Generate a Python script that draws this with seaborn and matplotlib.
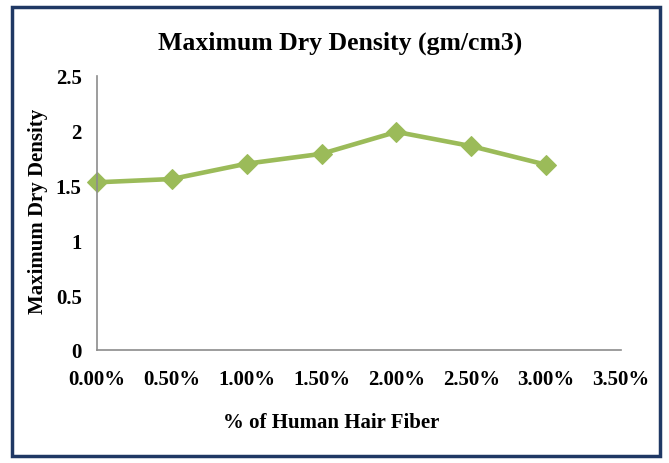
import matplotlib
matplotlib.use("Agg")
import matplotlib.pyplot as plt
import matplotlib.ticker as mticker
from matplotlib.patches import Rectangle
import seaborn as sns
import pandas as pd

fiber_pct = [0.0, 0.5, 1.0, 1.5, 2.0, 2.5, 3.0]
max_dry_density = [1.53, 1.56, 1.70, 1.79, 1.99, 1.86, 1.69]

title = "Maximum Dry Density (gm/cm3)"
x_label = "% of Human Hair Fiber"
y_label = "Maximum Dry Density"

sns.set_theme(style="white")
plt.rcParams["font.family"] = ["Liberation Serif", "DejaVu Serif"]
plt.rcParams["font.weight"] = "bold"
plt.rcParams["text.color"] = "black"
plt.rcParams["axes.labelcolor"] = "black"

df = pd.DataFrame({"fiber": fiber_pct, "mdd": max_dry_density})

fig = plt.figure(figsize=(6.69, 4.64), dpi=100)
ax = fig.add_axes([97 / 669, 1 - 351 / 464, (621 - 97) / 669, (351 - 77) / 464])

sns.lineplot(data=df, x="fiber", y="mdd", ax=ax, color="#9BBB59", linewidth=3.3,
             marker="D", markersize=10, markeredgecolor="#9BBB59", clip_on=False)

ax.set_xlim(0, 3.5)
ax.set_ylim(0, 2.5)
ax.set_xticks([0, 0.5, 1.0, 1.5, 2.0, 2.5, 3.0, 3.5])
ax.set_yticks([0, 0.5, 1.0, 1.5, 2.0, 2.5])
ax.xaxis.set_major_formatter(mticker.FuncFormatter(lambda v, p: f"{v:.2f}%"))
ax.yaxis.set_major_formatter(mticker.FuncFormatter(lambda v, p: f"{v:g}"))
ax.tick_params(axis="both", length=0, labelsize=15, colors="black")
ax.tick_params(axis="x", pad=14)
ax.tick_params(axis="y", pad=11)
for lbl in ax.get_xticklabels() + ax.get_yticklabels():
    lbl.set_fontweight("bold")
    lbl.set_color("black")

for s in ["top", "right"]:
    ax.spines[s].set_visible(False)
for s in ["left", "bottom"]:
    ax.spines[s].set_color("#8C8C8C")
    ax.spines[s].set_linewidth(1.2)

ax.set_xlabel(x_label, fontsize=15, fontweight="bold", color="black")
ax.set_ylabel(y_label, fontsize=15, fontweight="bold", color="black")
ax.xaxis.set_label_coords((331 - 97) / 524, -(423 - 351) / 274)
ax.xaxis.label.set_va("center")
ax.yaxis.set_label_coords((38 - 97) / 524, (351 - 211) / 274)
ax.yaxis.label.set_va("center")
ax.set_facecolor("white")

fig.text(340 / 669, 1 - 43 / 464, title, ha="center", va="center",
         fontsize=18.5, fontweight="bold", color="black")

fig.patches.append(Rectangle((12 / 669, 1 - 457 / 464), (660 - 12) / 669, (457 - 8) / 464,
                             transform=fig.transFigure, fill=False,
                             edgecolor="#1F3864", linewidth=2.5))

fig.savefig("out.png", dpi=100, facecolor="white")
